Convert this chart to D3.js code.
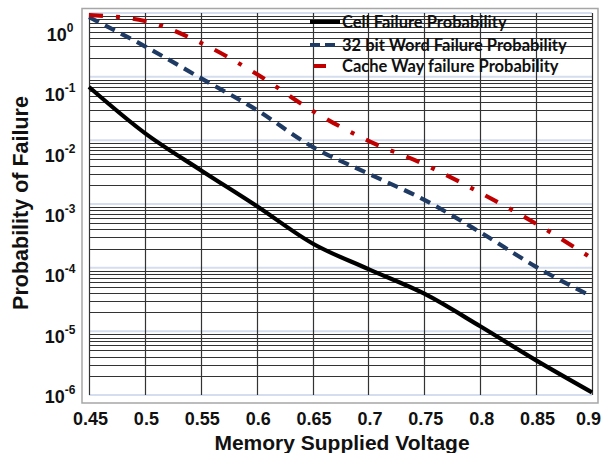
<!DOCTYPE html>
<html><head><meta charset="utf-8">
<script src="https://cdn.jsdelivr.net/npm/d3@7"></script>
<style>body{margin:0;background:#fff}svg{display:block}</style>
</head><body>
<svg id="c" width="605" height="453"></svg>
<script>
const voltages = [0.45,0.5,0.55,0.6,0.65,0.7,0.75,0.8,0.85,0.9];
const cellFailure = [6.9e-2,1.3e-2,3.4e-3,9.3e-4,2.4e-4,9.5e-5,3.9e-5,1.2e-5,3.5e-6,1.1e-6];
const wordFailure = [0.86,0.30,9.5e-2,3.0e-2,7.9e-3,3.0e-3,1.16e-3,3.6e-4,1.03e-4,3.5e-5];
const wayFailure = [0.93,0.75,0.34,0.11,2.9e-2,9.8e-3,4.2e-3,1.5e-3,4.9e-4,1.4e-4];
const xTicks = [0.45,0.5,0.55,0.6,0.65,0.7,0.75,0.8,0.85,0.9];
const yTickExps = [0,-1,-2,-3,-4,-5,-6];
const seriesNames = ["Cell Failure Probability","32 bit Word Failure Probability","Cache Way failure Probability"];

const svg = d3.select("#c");
const x = d3.scaleLinear().domain([0.45,0.9]).range([89,592]);
const y = d3.scaleLog().domain([1e-6,1]).range([395,13]);
const yLab = d3.scaleLog().domain([1e-6,1]).range([396,34]);

// outer frame
svg.append("rect").attr("x",82).attr("y",8.5).attr("width",516).attr("height",394.5)
  .attr("fill","#fff").attr("stroke","#a6a6a6").attr("stroke-width",1.5);

// minor horizontal grid
const minors = [];
for (let e=-6; e<0; e++) for (let m=2; m<=9; m++) minors.push(m*Math.pow(10,e));
svg.append("g").selectAll("line").data(minors).join("line")
  .attr("x1",89).attr("x2",592).attr("y1",d=>Math.round(y(d))+0.5).attr("y2",d=>Math.round(y(d))+0.5)
  .attr("stroke","#333").attr("stroke-width",1);
// decade grid
svg.append("g").selectAll("line").data(yTickExps.map(e=>Math.pow(10,e))).join("line")
  .attr("x1",89).attr("x2",592).attr("y1",d=>y(d)).attr("y2",d=>y(d))
  .attr("stroke","#d5deee").attr("stroke-width",2);
// vertical grid
svg.append("g").selectAll("line").data(xTicks).join("line")
  .attr("x1",d=>Math.round(x(d))+0.5).attr("x2",d=>Math.round(x(d))+0.5).attr("y1",13).attr("y2",395)
  .attr("stroke","#333").attr("stroke-width",1.2);

// x axis labels
const gx = svg.append("g").attr("transform","translate(1,404)")
  .call(d3.axisBottom(x).tickValues(xTicks).tickSize(0).tickPadding(5).tickFormat(d=>String(d)));
gx.select(".domain").remove();
gx.selectAll(".tick text").attr("font-family","Liberation Sans, Arial, sans-serif")
  .attr("font-weight","bold").attr("font-size",18).attr("fill","#111").attr("dy","0.9em")
  .attr("dx",(d,i)=> i===xTicks.length-1 ? -5 : 0);

// y axis labels
const gy = svg.append("g").attr("transform","translate(60,0)")
  .call(d3.axisLeft(yLab).tickValues(yTickExps.map(e=>Math.pow(10,e))).tickSize(0).tickFormat(""));
gy.select(".domain").remove();
gy.selectAll(".tick text").each(function(d){
  const t = d3.select(this).attr("x",0).attr("text-anchor","middle").attr("dy","0.36em")
    .attr("font-family","Liberation Sans, Arial, sans-serif").attr("font-weight","bold")
    .attr("font-size",18).attr("fill","#111");
  t.text(null);
  t.append("tspan").text("10");
  t.append("tspan").attr("font-size",12).attr("dy","-0.75em").text(String(Math.round(Math.log10(d))));
});

// axis titles
svg.append("text").attr("x",342).attr("y",450).attr("text-anchor","middle")
  .attr("font-family","Liberation Sans, Arial, sans-serif").attr("font-weight","bold")
  .attr("font-size",21).attr("fill","#111").text("Memory Supplied Voltage");
svg.append("text").attr("transform","translate(28,203) rotate(-90)").attr("text-anchor","middle")
  .attr("font-family","Liberation Sans, Arial, sans-serif").attr("font-weight","bold")
  .attr("font-size",21.5).attr("fill","#111").text("Probability of Failure");

// series
const line = d3.line().x(d=>x(d[0])).y(d=>y(d[1])).curve(d3.curveMonotoneX);
const series = [
  {vals: cellFailure, color:"#000000", dash:null},
  {vals: wordFailure, color:"#1f3b63", dash:"11,7"},
  {vals: wayFailure, color:"#c00000", dash:"14,13,4,13"}
];
svg.append("clipPath").attr("id","pc").append("rect").attr("x",85).attr("y",11).attr("width",512).attr("height",388);
svg.append("g").attr("clip-path","url(#pc)").selectAll("path").data(series).join("path")
  .attr("d",s=>line(voltages.map((v,i)=>[v,s.vals[i]])))
  .attr("fill","none").attr("stroke",s=>s.color).attr("stroke-width",4.2)
  .attr("stroke-dasharray",s=>s.dash);

// legend
const leg = svg.append("g");
const rows = [22,45,66];
seriesNames.forEach((n,i)=>{
  const s = series[i];
  leg.append("line").attr("x1",i===2?314:310).attr("x2",i===2?326:340).attr("y1",rows[i]).attr("y2",rows[i])
    .attr("stroke",s.color).attr("stroke-width",4).attr("stroke-dasharray", i===1 ? "10,5" : null);
  leg.append("text").attr("x",342).attr("y",rows[i]).attr("dy","0.35em")
    .attr("font-family","Lato, Open Sans, sans-serif").attr("font-weight","bold")
    .attr("font-size",16.5).attr("fill","#111").text(n);
});
</script>
</body></html>
